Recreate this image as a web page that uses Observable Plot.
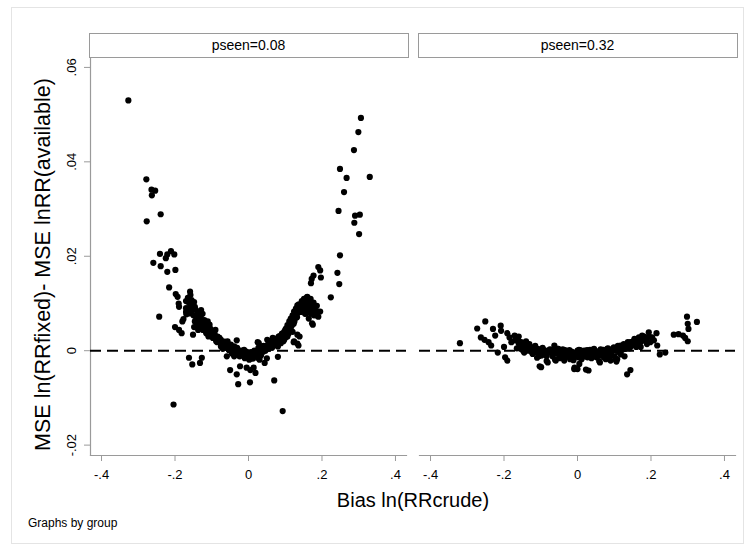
<!DOCTYPE html>
<html>
<head>
<meta charset="utf-8">
<script src="https://cdn.jsdelivr.net/npm/d3@7"></script>
<script src="https://cdn.jsdelivr.net/npm/@observablehq/plot@0.6"></script>
<style>
  html, body { margin: 0; padding: 0; background: white; }
  body { width: 749px; height: 549px; position: relative; overflow: hidden; font-family: "Liberation Sans", Arial, sans-serif; }
  #border { position: absolute; left: 11px; top: 7px; width: 733px; height: 537px; border: 1px solid #e4e4e4; box-sizing: border-box; pointer-events: none; }
  #chart svg { display: block; }
  #xtitle { width: 646px; margin-left: 90px; text-align: center; font-size: 20px; line-height: 24px; margin-top: 4px; color: #000; }
  #caption { margin-left: 28px; font-size: 12px; line-height: 16px; margin-top: 3px; color: #000; }
</style>
</head>
<body>
<div id="border"></div>
<div id="chart"></div>
<div id="xtitle">Bias ln(RRcrude)</div>
<div id="caption">Graphs by group</div>
<script>
// ---- data ----
const groups = ["pseen=0.08", "pseen=0.32"];

const bias08 = [
  -0.327,-0.278,-0.264,-0.254,-0.263,-0.239,-0.277,-0.241,-0.221,-0.211,-0.202,-0.225,-0.259,-0.239,-0.221,-0.199,
  -0.243,-0.216,-0.198,-0.193,-0.189,-0.200,-0.189,-0.182,-0.177,-0.169,-0.159,-0.164,-0.155,-0.148,-0.146,-0.153,
  -0.162,-0.137,-0.129,-0.141,-0.146,-0.133,-0.120,-0.111,-0.106,-0.148,-0.137,-0.151,-0.124,-0.115,-0.102,-0.093,
  -0.109,-0.097,-0.084,-0.075,-0.088,-0.066,-0.057,-0.048,-0.075,-0.062,-0.039,-0.032,-0.028,-0.021,-0.012,-0.004,
  0.005,0.001,0.014,-0.012,-0.026,-0.039,-0.059,0.023,0.028,0.025,0.035,0.044,0.053,0.062,0.071,0.080,
  0.087,0.066,0.051,0.093,0.097,0.102,0.106,0.111,0.115,0.120,0.124,0.129,0.133,0.140,0.147,0.151,
  0.160,0.169,0.156,0.169,0.178,0.173,0.189,0.184,0.120,0.133,0.124,0.133,0.106,0.097,0.088,0.080,
  0.080,0.044,0.025,0.030,0.014,0.019,0.005,-0.005,0.004,-0.023,-0.032,-0.050,-0.028,0.070,0.093,-0.204,
  -0.162,-0.153,-0.132,-0.127,
  0.306,0.299,0.287,0.249,0.267,0.330,0.260,0.245,0.290,0.303,0.288,0.301,0.249,0.190,0.195,0.242,
  0.177,0.172,0.197,0.170,0.247,0.224,0.159,0.168,0.177,0.150,0.141,0.154,0.195,0.186,0.175,0.132,
  0.123,0.114,0.105,0.139,0.096,0.123,0.136,0.028,0.078,
  -0.170,-0.165,-0.158,-0.152,-0.145,-0.140,-0.135,-0.130,-0.127,-0.122,-0.118,-0.113,-0.108,-0.104,-0.100,-0.095,
  -0.090,-0.086,-0.082,-0.078,-0.072,-0.068,-0.064,-0.060,-0.055,-0.052,-0.046,-0.042,-0.036,-0.033,-0.030,-0.025,
  -0.018,-0.015,-0.008,-0.002,0.003,0.008,0.010,0.018,0.020,0.032,0.038,0.040,0.047,0.050,0.056,0.058,
  0.063,0.068,0.074,0.076,0.083,0.085,0.090,0.094,0.099,0.100,0.104,0.108,0.110,0.113,0.117,0.118,
  0.122,0.126,0.127,0.131,0.135,0.138,0.143,0.145,0.149,0.153,0.158,0.162,0.165,0.180,0.186,0.190,
  0.164,0.050,0.034,-0.045,-0.070,-0.090,-0.110,-0.125,-0.140,-0.170,-0.180,-0.190,-0.170,
  -0.118,-0.112,-0.105,-0.098,-0.092,-0.085,-0.079,-0.072,-0.065,-0.058,-0.053,-0.043,-0.037,-0.031,-0.024,-0.017,
  -0.010,-0.006,0.002,0.007,0.012,0.016,0.022,0.027,0.033,0.041,0.046,0.054,0.059,0.064,0.069,0.073,
  0.078,0.082,0.086,0.091,0.095,0.101,0.105,0.109,0.114,0.119,0.125,0.129,0.134,0.137,0.142,0.146,
  0.152,0.157,0.163,0.167,0.172,0.176,0.182,-0.160,-0.156,-0.150,-0.143,-0.138,-0.132,-0.128,-0.117,-0.110
];
const mse08 = [
  0.0530,0.0363,0.0341,0.0339,0.0329,0.0289,0.0274,0.0205,0.0204,0.0211,0.0204,0.0196,0.0186,0.0179,0.0167,0.0171,
  0.0072,0.0134,0.0120,0.0114,0.0093,0.0050,0.0044,0.0037,0.0067,0.0077,0.0125,0.0103,0.0107,0.0103,0.0093,0.0086,
  0.0079,0.0083,0.0086,0.0068,0.0062,0.0062,0.0065,0.0062,0.0055,0.0050,0.0044,0.0034,0.0044,0.0037,0.0044,0.0037,
  0.0030,0.0027,0.0030,0.0023,0.0020,0.0016,0.0020,0.0013,0.0009,0.0006,0.0009,0.0022,0.0002,-0.0001,0.0002,-0.0005,
  -0.0008,-0.0015,-0.0012,-0.0012,-0.0010,-0.0012,-0.0012,-0.0005,0.0002,0.0018,0.0006,0.0009,0.0013,0.0016,0.0020,0.0023,
  0.0027,0.0027,0.0023,0.0034,0.0040,0.0047,0.0054,0.0062,0.0068,0.0075,0.0083,0.0089,0.0096,0.0089,0.0100,0.0110,
  0.0114,0.0110,0.0079,0.0079,0.0075,0.0058,0.0083,0.0075,0.0040,0.0034,0.0020,0.0015,0.0030,0.0023,0.0016,0.0009,
  -0.0013,-0.0026,-0.0015,-0.0019,-0.0036,-0.0047,-0.0041,-0.0036,-0.0067,-0.0033,-0.0050,-0.0041,-0.0071,-0.0063,-0.0128,-0.0114,
  -0.0015,-0.0029,-0.0026,-0.0015,
  0.0493,0.0463,0.0425,0.0385,0.0366,0.0368,0.0336,0.0296,0.0286,0.0288,0.0271,0.0247,0.0202,0.0177,0.0170,0.0165,
  0.0159,0.0152,0.0155,0.0143,0.0141,0.0113,0.0113,0.0106,0.0102,0.0099,0.0088,0.0078,0.0083,0.0078,0.0055,0.0071,
  0.0057,0.0042,0.0035,0.0030,0.0025,0.0018,0.0011,0.0016,0.0018,
  0.0105,0.0112,0.0118,0.0098,0.0088,0.0078,0.0072,0.0070,0.0060,0.0055,0.0050,0.0047,0.0045,0.0040,0.0034,0.0030,
  0.0028,0.0024,0.0021,0.0018,0.0016,0.0012,0.0010,0.0008,0.0005,0.0009,0.0004,0.0001,0.0003,-0.0002,-0.0004,-0.0006,
  -0.0004,-0.0007,-0.0009,-0.0010,-0.0006,-0.0011,-0.0004,-0.0008,-0.0002,0.0002,0.0004,-0.0002,0.0004,0.0008,0.0009,0.0014,
  0.0011,0.0020,0.0016,0.0025,0.0020,0.0031,0.0029,0.0026,0.0033,0.0044,0.0038,0.0049,0.0041,0.0056,0.0052,0.0064,
  0.0066,0.0072,0.0077,0.0080,0.0086,0.0092,0.0095,0.0105,0.0093,0.0105,0.0092,0.0087,0.0097,0.0090,0.0095,0.0072,
  0.0068,-0.0016,-0.0010,-0.0006,0.0004,0.0044,0.0052,0.0078,0.0056,0.0090,0.0062,0.0100,0.0082,
  0.0060,0.0040,0.0048,0.0041,0.0033,0.0018,0.0027,0.0010,0.0019,0.0013,0.0001,0.0007,-0.0005,0.0006,-0.0012,0.0000,
  -0.0016,-0.0002,-0.0019,-0.0003,-0.0017,0.0000,-0.0010,0.0006,-0.0003,0.0010,0.0000,0.0004,0.0020,0.0006,0.0011,0.0025,
  0.0013,0.0030,0.0017,0.0036,0.0020,0.0028,0.0046,0.0036,0.0048,0.0058,0.0062,0.0070,0.0080,0.0098,0.0082,0.0095,
  0.0090,0.0102,0.0105,0.0088,0.0098,0.0085,0.0080,0.0092,0.0085,0.0075,0.0072,0.0066,0.0056,0.0050,0.0043,0.0035
];

const bias32 = [
  -0.320,-0.251,-0.273,-0.230,-0.209,-0.208,-0.224,-0.263,-0.253,-0.242,-0.235,-0.217,-0.197,-0.191,-0.191,-0.185,
  -0.171,-0.162,-0.180,-0.153,-0.144,-0.131,-0.122,-0.108,-0.099,-0.135,-0.122,-0.104,-0.090,-0.081,-0.063,-0.054,
  -0.045,-0.032,-0.018,-0.009,-0.081,-0.059,-0.036,-0.099,-0.009,-0.103,-0.008,0.023,0.135,0.144,-0.084,0.059,
  0.104,-0.061,-0.039,0.030,0.061,0.106,0.224,0.239,0.217,0.198,0.215,0.194,0.176,0.167,0.185,0.262,
  0.275,0.287,0.293,0.300,0.298,0.300,0.302,0.325,0.000,0.009,0.018,0.036,0.045,0.054,0.068,0.081,
  0.090,0.099,0.108,0.117,0.126,0.135,0.144,0.153,0.158,0.171,0.189,0.203,0.027,0.072,0.090,0.108,
  0.005,0.000,
  -0.170,-0.160,-0.150,-0.140,-0.128,-0.115,-0.112,-0.095,-0.087,-0.075,-0.070,-0.066,-0.050,-0.040,-0.027,-0.022,
  -0.014,-0.004,0.004,0.013,0.026,0.032,0.040,0.050,0.063,0.075,0.085,0.095,0.103,0.112,0.120,0.130,
  0.140,0.148,0.162,0.165,0.180,0.172,0.118,0.128,0.077,0.045,-0.020,-0.050,-0.110,-0.145,-0.165,-0.200,
  -0.160,-0.155,-0.148,-0.138,-0.125,-0.118,-0.105,-0.098,-0.092,-0.084,-0.078,-0.072,-0.068,-0.058,-0.052,-0.047,
  -0.042,-0.034,-0.029,-0.024,-0.016,-0.011,-0.005,0.002,0.007,0.011,0.016,0.021,0.029,0.034,0.038,0.043,
  0.048,0.052,0.057,0.064,0.070,0.079,0.083,0.087,0.093,0.097,0.101,0.106,0.110,0.114,0.122,0.125,
  0.132,0.137,0.142,0.146,0.151,0.155,0.160,0.168,0.175,0.182,0.188,0.195,0.208
];
const mse32 = [
  0.0016,0.0062,0.0047,0.0046,0.0053,0.0042,0.0032,0.0028,0.0023,0.0018,0.0011,-0.0004,-0.0014,-0.0021,0.0037,0.0028,
  0.0032,0.0025,0.0018,0.0018,0.0011,0.0014,0.0007,0.0004,0.0000,0.0000,-0.0007,-0.0011,-0.0007,0.0000,0.0011,0.0004,
  -0.0004,-0.0007,-0.0011,-0.0014,-0.0025,-0.0021,-0.0021,-0.0035,-0.0039,-0.0033,-0.0036,-0.0040,-0.0050,-0.0041,-0.0022,-0.0022,
  -0.0019,-0.0019,-0.0015,-0.0042,-0.0025,-0.0023,-0.0008,-0.0004,0.0011,0.0018,0.0037,0.0039,0.0032,0.0028,0.0025,0.0034,
  0.0035,0.0032,0.0027,0.0020,0.0072,0.0057,0.0046,0.0061,0.0000,-0.0007,0.0000,-0.0004,0.0004,-0.0007,0.0000,0.0004,
  -0.0007,0.0007,0.0000,0.0011,0.0014,0.0007,0.0018,0.0021,0.0011,0.0018,0.0014,0.0028,-0.0014,-0.0014,-0.0021,-0.0018,
  -0.0028,-0.0039,
  0.0022,0.0015,0.0008,0.0020,0.0005,0.0010,-0.0003,0.0006,-0.0002,0.0003,-0.0005,0.0002,0.0000,0.0003,-0.0003,0.0001,
  -0.0006,-0.0004,0.0002,-0.0003,0.0001,-0.0007,0.0002,-0.0003,0.0003,-0.0004,0.0001,0.0002,0.0004,0.0006,0.0009,0.0004,
  0.0012,0.0015,0.0016,0.0024,0.0021,0.0008,-0.0008,-0.0012,-0.0018,-0.0012,-0.0018,-0.0010,-0.0015,-0.0004,0.0005,0.0008,
  0.0030,0.0004,0.0000,0.0006,-0.0003,0.0003,-0.0004,-0.0010,0.0002,-0.0012,-0.0004,0.0002,-0.0012,-0.0006,0.0004,-0.0016,
  -0.0007,0.0001,-0.0012,-0.0005,-0.0002,-0.0020,-0.0010,-0.0014,0.0001,-0.0018,-0.0005,-0.0012,-0.0004,0.0002,-0.0016,-0.0006,
  0.0000,-0.0014,-0.0002,-0.0010,0.0002,-0.0008,0.0005,-0.0012,-0.0002,0.0005,-0.0012,0.0000,0.0010,-0.0004,0.0002,0.0008,
  0.0012,0.0018,0.0005,0.0010,0.0014,0.0025,0.0008,0.0020,0.0026,0.0030,0.0022,0.0030,0.0022
];

const xTicks = [-0.4, -0.2, 0, 0.2, 0.4];
const yTicks = [-0.02, 0, 0.02, 0.04, 0.06];
const yTitle = "MSE ln(RRfixed)- MSE lnRR(available)";

// ---- table ----
const points = [
  ...bias08.map((b, i) => ({group: groups[0], bias: b, mse: mse08[i]})),
  ...bias32.map((b, i) => ({group: groups[1], bias: b, mse: mse32[i]}))
];

const stataFmt = d => d === 0 ? "0" : String(+d.toFixed(2)).replace(/^(-?)0\./, "$1.");

const W = 749, H = 484, mT = 57, mB = 29, mL = 90, mR = 13;
const plotH = H - mT - mB;
const axisGray = "#9a9a9a";

const chart = Plot.plot({
  width: W,
  height: H,
  marginTop: mT,
  marginBottom: mB,
  marginLeft: mL,
  marginRight: mR,
  style: {fontFamily: "'Liberation Sans', Arial, sans-serif", fontSize: "13px", color: "black", background: "white"},
  fx: {domain: groups, paddingInner: 0.0395, paddingOuter: 0, axis: null, label: null},
  x: {domain: [-0.43, 0.43], axis: null},
  y: {domain: [-0.0222, 0.0621], axis: null},
  marks: [
    // strip headers
    Plot.frame({fill: "white", stroke: axisGray, insetTop: -24, insetBottom: plotH, insetLeft: -1, insetRight: -2}),
    Plot.text(groups, {fx: d => d, text: d => d, frameAnchor: "top", lineAnchor: "middle", dy: -12, fontSize: 14, fill: "black"}),
    // axes
    Plot.frame({anchor: "bottom", stroke: axisGray, strokeWidth: 1.2}),
    Plot.frame({anchor: "left", stroke: axisGray, strokeWidth: 1.2, facetAnchor: "left"}),
    Plot.axisX({ticks: xTicks, tickFormat: stataFmt, tickSize: 6, tickPadding: 8, stroke: axisGray, fill: "black", fontSize: 13, label: null}),
    Plot.axisY({ticks: yTicks, tickFormat: stataFmt, tickSize: 6, tickPadding: 9, tickRotate: -90, stroke: axisGray, fill: "black", fontSize: 13, label: null}),
    Plot.text([yTitle], {fx: () => groups[0], text: d => d, frameAnchor: "left", textAnchor: "middle", lineAnchor: "middle", rotate: -90, dx: -47, dy: 8, fontSize: 21.5, fill: "black"}),
    // zero reference line
    Plot.ruleY([0], {stroke: "black", strokeWidth: 2, strokeDasharray: "11,6"}),
    // points
    Plot.dot(points, {fx: "group", x: "bias", y: "mse", r: 3.1, fill: "black", stroke: "none"})
  ]
});

document.getElementById("chart").appendChild(chart);
</script>
</body>
</html>
